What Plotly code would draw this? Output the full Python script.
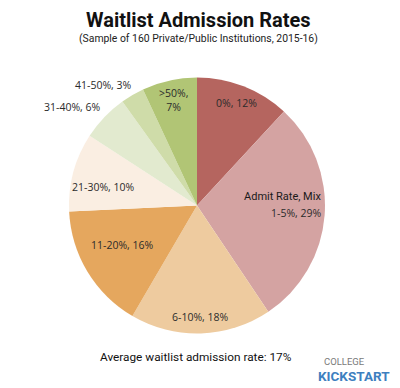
import plotly.graph_objects as go

categories = ["0%", "1-5%", "6-10%", "11-20%", "21-30%", "31-40%", "41-50%", ">50%"]
values = [12, 29, 18, 16, 10, 6, 3, 7]
colors = ["#b5655f", "#d4a3a2", "#eecb9f", "#e5a75e", "#faeee2", "#e2eacf", "#cfdca9", "#b1c575"]

W, H = 400, 388

def px(x, y):
    return x / W, 1 - y / H

fig = go.Figure(go.Pie(
    labels=categories, values=values, sort=False, direction="clockwise", rotation=0,
    marker=dict(colors=colors, line=dict(width=0)),
    textinfo="none", hoverinfo="label+value",
    domain=dict(x=[69 / W, 325 / W], y=[1 - 333.5 / H, 1 - 77.5 / H]),
    showlegend=False,
))

lab_font = dict(family="Open Sans, sans-serif", size=10.5, color="#2b2b2b")
labels = [
    ("0%, 12%", 236, 103, lab_font),
    ("Admit Rate, Mix", 282, 196, dict(family="Roboto, sans-serif", size=11, color="#1a1a1a")),
    ("1-5%, 29%", 296, 213, lab_font),
    ("6-10%, 18%", 201, 317, lab_font),
    ("11-20%, 16%", 122, 245, lab_font),
    ("21-30%, 10%", 103, 187, lab_font),
    ("31-40%, 6%", 72, 107, lab_font),
    ("41-50%, 3%", 103, 85, lab_font),
    (">50%,<br>7%", 173, 100, lab_font),
]
ann = []
for t, x, y, f in labels:
    xx, yy = px(x, y)
    ann.append(dict(text=t, x=xx, y=yy, xref="paper", yref="paper", showarrow=False,
                    font=f, xanchor="center", yanchor="middle"))

ann.append(dict(text="<b>Waitlist Admission Rates</b>", x=px(198, 20)[0], y=px(198, 20)[1],
                xref="paper", yref="paper", showarrow=False,
                font=dict(family="Roboto, sans-serif", size=20, color="#111"),
                xanchor="center", yanchor="middle"))
ann.append(dict(text="(Sample of 160 Private/Public Institutions, 2015-16)", x=px(198, 39)[0], y=px(198, 39)[1],
                xref="paper", yref="paper", showarrow=False,
                font=dict(family="Roboto, sans-serif", size=10.4, color="#222"),
                xanchor="center", yanchor="middle"))
ann.append(dict(text="Average waitlist admission rate: 17%", x=px(196, 357)[0], y=px(196, 357)[1],
                xref="paper", yref="paper", showarrow=False,
                font=dict(family="Roboto, sans-serif", size=11.8, color="#111"),
                xanchor="center", yanchor="middle"))
ann.append(dict(text="&nbsp;&nbsp;<span style='font-size:9.5px;color:#7a7a7a'>COLLEGE</span><br>"
                     "<b><span style='font-size:13.5px;color:#3d7fbf'>KICKSTART</span></b>",
                x=px(316, 369)[0], y=px(316, 369)[1],
                xref="paper", yref="paper", showarrow=False, align="left",
                font=dict(family="Roboto, sans-serif", size=12, color="#7a7a7a"),
                xanchor="left", yanchor="middle"))

fig.update_layout(width=W, height=H, margin=dict(l=0, r=0, t=0, b=0),
                  paper_bgcolor="white", plot_bgcolor="white", annotations=ann)
fig.write_html("out.html", config={"displayModeBar": False},
               post_script="document.body.style.margin='0';")
